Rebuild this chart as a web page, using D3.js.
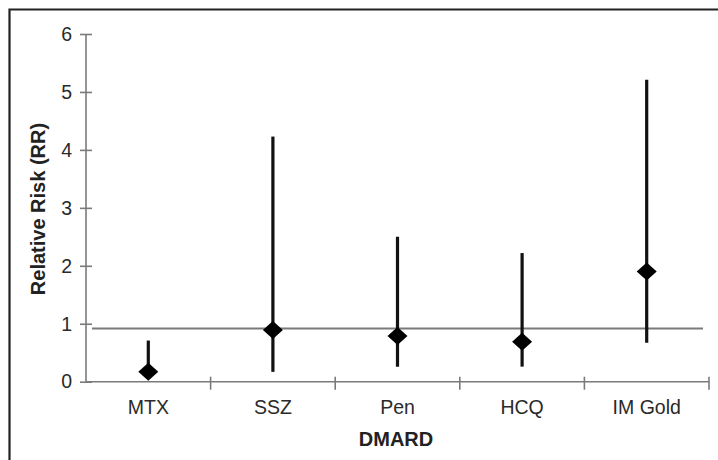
<!DOCTYPE html>
<html><head><meta charset="utf-8">
<script src="https://cdn.jsdelivr.net/npm/d3@7"></script>
<style>html,body{margin:0;padding:0;background:#fff;}svg{display:block;}</style>
</head><body><svg id="c" width="718" height="460"></svg>
<script>
const categories = ["MTX", "SSZ", "Pen", "HCQ", "IM Gold"];
const rrValues = [0.17, 0.89, 0.79, 0.69, 1.9];
const lowerCI = [0.1, 0.17, 0.26, 0.26, 0.67];
const upperCI = [0.71, 4.23, 2.5, 2.22, 5.21];
const yTicks = [0, 1, 2, 3, 4, 5, 6];
const referenceValue = 0.92;

const svg = d3.select("#c");
const font = "'Liberation Sans', Arial, sans-serif";
const x0 = 86, x1 = 709, yTop = 34, yBot = 381.7;

const x = d3.scaleBand().domain(categories).range([x0, x1]);
const y = d3.scaleLinear().domain([0, 6]).range([yBot, yTop]);

// frame
svg.append("path").attr("d", "M9.5,460 L9.5,9.5 L718,9.5")
  .attr("fill", "none").attr("stroke", "#222").attr("stroke-width", 2.2);

const axisColor = "#7a7a7a";
// y axis
const ya = svg.append("g").attr("transform", `translate(${x0},0)`)
  .call(d3.axisLeft(y).tickValues(yTicks).tickFormat(d3.format("d")).tickSize(6).tickPadding(9));
ya.select(".domain").attr("stroke", axisColor).attr("stroke-width", 1.6).attr("d", `M0,${yBot}V${yTop}`);
ya.selectAll(".tick line").attr("stroke", axisColor).attr("stroke-width", 1.6).attr("x1", 6).attr("x2", -6);
ya.selectAll(".tick text").attr("font-family", font).attr("font-size", 19.5).attr("fill", "#2a2a2a").attr("x", -14);

// x axis
const xa = svg.append("g").attr("transform", `translate(0,${yBot})`)
  .call(d3.axisBottom(x).tickSize(0).tickPadding(0));
xa.select(".domain").attr("stroke", axisColor).attr("stroke-width", 1.6).attr("d", `M${x0},0H${x1}`);
xa.selectAll(".tick text").attr("font-family", font).attr("font-size", 19.5).attr("fill", "#2a2a2a").attr("dy", 0).attr("y", 32);
// category separator ticks
const bounds = categories.map(c => x(c)).concat([x1]);
svg.append("g").selectAll("line").data(bounds.slice(1)).join("line")
  .attr("x1", d => d).attr("x2", d => d).attr("y1", yBot - 5).attr("y2", yBot + 8)
  .attr("stroke", axisColor).attr("stroke-width", 1.6);

// reference line
svg.append("line").attr("x1", x0 + 6).attr("x2", 703)
  .attr("y1", y(referenceValue)).attr("y2", y(referenceValue))
  .attr("stroke", "#7a7a7a").attr("stroke-width", 2);

// error bars
const data = categories.map((c, i) => ({c, rr: rrValues[i], lo: lowerCI[i], hi: upperCI[i]}));
const cx = d => x(d.c) + x.bandwidth() / 2;
svg.append("g").selectAll("line").data(data).join("line")
  .attr("x1", cx).attr("x2", cx).attr("y1", d => y(d.lo)).attr("y2", d => y(d.hi))
  .attr("stroke", "#111").attr("stroke-width", 3.2);

// diamonds
const sym = d3.symbol().type(d3.symbolSquare).size(200);
svg.append("g").selectAll("path").data(data).join("path")
  .attr("d", sym)
  .attr("transform", d => `translate(${cx(d)},${y(d.rr)}) scale(1,0.9) rotate(45)`)
  .attr("fill", "#000");

// axis titles
svg.append("text").attr("transform", `translate(45,209) rotate(-90)`)
  .attr("text-anchor", "middle").attr("font-family", font).attr("font-weight", "bold")
  .attr("font-size", 20).attr("fill", "#222").text("Relative Risk (RR)");
svg.append("text").attr("x", 396).attr("y", 446)
  .attr("text-anchor", "middle").attr("font-family", font).attr("font-weight", "bold")
  .attr("font-size", 20).attr("fill", "#222").text("DMARD");
</script></body></html>
